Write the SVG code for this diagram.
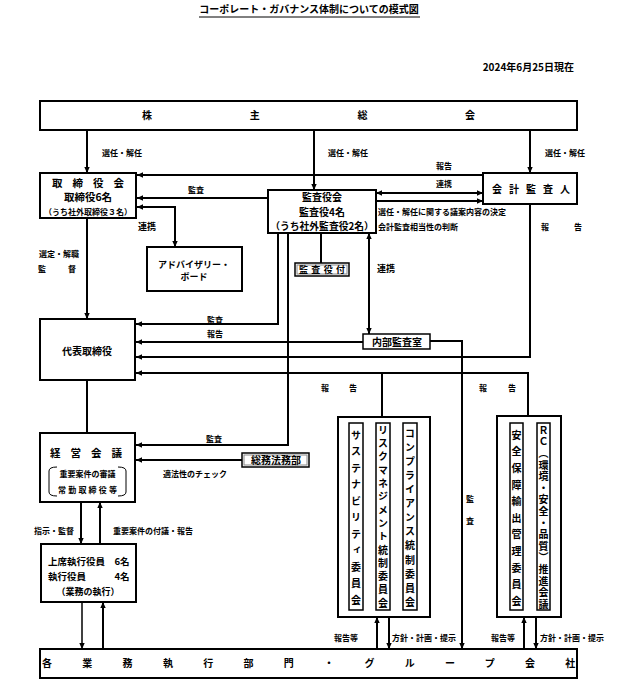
<svg xmlns="http://www.w3.org/2000/svg" width="618" height="693" viewBox="0 0 618 693">
<defs>
<style>
text{font-family:"Noto Sans CJK JP","Noto Sans CJK SC",sans-serif;font-weight:bold;fill:#000}
.box{fill:#fff;stroke:#000;stroke-width:2}
.sbox{fill:#fff;stroke:#000;stroke-width:1.5}
.inner{fill:none;stroke:#888;stroke-width:1}
.ln{fill:none;stroke:#000;stroke-width:2}
.thin{fill:none;stroke:#000;stroke-width:1.5}
.arr{marker-end:url(#ah)}
.dbl{marker-start:url(#ah);marker-end:url(#ah)}
.lbl{font-size:8px}
.t10{font-size:10px}
.mid{text-anchor:middle}
.vt{writing-mode:vertical-rl;font-size:10px}
</style>
<marker id="ah" viewBox="0 0 10 10" refX="10" refY="5" markerWidth="6" markerHeight="6" markerUnits="userSpaceOnUse" orient="auto-start-reverse">
<path d="M0,0.5 L10,5 L0,9.5 z" fill="#000"/>
</marker>
</defs>
<rect width="618" height="693" fill="#fff"/>

<g id="title">
<text x="309" y="13" class="t10 mid">コーポレート・ガバナンス体制についての模式図</text>
<line x1="199" y1="17" x2="420" y2="17" stroke="#000" stroke-width="1"/>
<text x="574" y="71" class="t10" text-anchor="end">2024年6月25日現在</text>
</g>

<g id="connectors">
<path class="ln arr" d="M87,130 V173"/>
<path class="ln arr" d="M314,130 V190"/>
<path class="ln arr" d="M530,130 V173"/>
<path class="ln arr" d="M483,175 H137"/>
<path class="ln arr" d="M268,198 H137"/>
<path class="ln dbl" d="M137,207 H175 V247"/>
<path class="ln dbl" d="M376,193 H483"/>
<path class="ln arr" d="M376,201 H483"/>
<path class="ln arr" d="M87,218 V319"/>
<path class="ln arr" d="M278,233 V324 H136"/>
<path class="ln arr" d="M288,233 V445 H136"/>
<path class="ln" d="M321,233 V263"/>
<path class="ln dbl" d="M369,233 V334"/>
<path class="ln arr" d="M363,342 H136"/>
<path class="ln arr" d="M430,341 H462 V649"/>
<path class="ln arr" d="M530,204 V357 H136"/>
<path class="ln arr" d="M528,416 V373 H136"/>
<path class="ln" d="M382,373 V417"/>
<path class="ln" d="M87,380 V433"/>
<path class="ln arr" d="M242,460 H136"/>
<path class="ln arr" d="M81,502 V544"/>
<path class="ln arr" d="M100,544 V502"/>
<path class="thin arr" d="M82,602 V649"/>
<path class="ln arr" d="M103,649 V602"/>
<path class="ln arr" d="M377,649 V617"/>
<path class="ln arr" d="M389,617 V649"/>
<path class="ln arr" d="M524,649 V617"/>
<path class="ln arr" d="M536,617 V649"/>
</g>

<g id="labels">
<text x="102" y="156" class="lbl">選任・解任</text>
<text x="328" y="156" class="lbl">選任・解任</text>
<text x="545" y="156" class="lbl">選任・解任</text>
<text x="436" y="169" class="lbl">報告</text>
<text x="188" y="193" class="lbl">監査</text>
<text x="436" y="187" class="lbl">連携</text>
<text x="378" y="215" class="lbl">選任・解任に関する議案内容の決定</text>
<text x="378" y="230" class="lbl">会計監査相当性の判断</text>
<text x="541" y="230" class="lbl" letter-spacing="25">報告</text>
<text x="138" y="230" style="font-size:9px">連携</text>
<text x="39" y="257" class="lbl">選定・解職</text>
<text x="38" y="272" class="lbl" letter-spacing="22">監督</text>
<text x="377" y="272" style="font-size:9px">連携</text>
<text x="207" y="323" class="lbl">監査</text>
<text x="207" y="337" class="lbl">報告</text>
<text x="321" y="391" class="lbl" letter-spacing="20">報告</text>
<text x="479" y="391" class="lbl" letter-spacing="21">報告</text>
<text x="206" y="442" class="lbl">監査</text>
<text x="163" y="477" class="lbl">適法性のチェック</text>
<text x="470" y="495" class="lbl" style="writing-mode:vertical-rl" letter-spacing="14">監査</text>
<text x="34" y="534" class="lbl">指示・監督</text>
<text x="113" y="534" class="lbl">重要案件の付議・報告</text>
<text x="334" y="641" class="lbl">報告等</text>
<text x="392" y="641" class="lbl">方針・計画・提示</text>
<text x="491" y="641" class="lbl">報告等</text>
<text x="540" y="641" class="lbl">方針・計画・提示</text>
</g>

<g id="shareholders">
<rect class="box" x="40" y="101" width="537" height="29"/>
<text x="142" y="119" class="t10" letter-spacing="97.7">株主総会</text>
</g>

<g id="board">
<rect class="box" x="40" y="173" width="96" height="45"/>
<text x="52" y="187" style="font-size:10.5px" letter-spacing="10">取締役会</text>
<text x="88" y="201" class="mid" style="font-size:10.5px">取締役6名</text>
<text x="88" y="215" class="mid" style="font-size:8px">（うち社外取締役３名）</text>
</g>

<g id="advisory">
<rect class="box" x="147" y="247" width="95" height="44"/>
<text x="194" y="268" class="mid" style="font-size:9px">アドバイザリー・</text>
<text x="194" y="280" class="mid" style="font-size:9px">ボード</text>
</g>

<g id="auditboard">
<rect class="box" x="268" y="190" width="108" height="43"/>
<text x="322" y="201" class="mid t10">監査役会</text>
<text x="322" y="216" class="mid t10">監査役4名</text>
<text x="322" y="230" class="mid" style="font-size:9.8px">（うち社外監査役2名）</text>
</g>

<g id="accountant">
<rect class="box" x="483" y="173" width="94" height="31"/>
<text x="492" y="193" class="t10" letter-spacing="7">会計監査人</text>
</g>

<g id="auditstaff">
<rect class="sbox" x="295" y="263" width="54" height="13"/>
<rect class="inner" x="297" y="265" width="50" height="9"/>
<text x="299" y="273" style="font-size:9px" textLength="46" lengthAdjust="spacing">監査役付</text>
</g>

<g id="president">
<rect class="box" x="40" y="319" width="95" height="61"/>
<text x="87" y="355" class="mid t10">代表取締役</text>
</g>

<g id="internalaudit">
<rect class="sbox" x="363" y="334" width="67" height="15"/>
<text x="397" y="345.5" class="mid t10">内部監査室</text>
</g>

<g id="management">
<rect class="box" x="40" y="433" width="95" height="69"/>
<text x="50" y="457" style="font-size:10.5px" letter-spacing="10">経営会議</text>
<path class="thin" style="stroke-width:1" d="M57,467 Q49,467 49,471 V492 Q49,496 57,496"/>
<path class="thin" style="stroke-width:1" d="M118,467 Q126,467 126,471 V492 Q126,496 118,496"/>
<text x="87.5" y="477" class="mid" style="font-size:8px">重要案件の審議</text>
<text x="58" y="493" style="font-size:8px" textLength="59" lengthAdjust="spacing">常勤取締役等</text>
</g>

<g id="legal">
<rect class="sbox" x="242" y="453" width="67" height="14"/>
<rect class="inner" x="244" y="455" width="63" height="10"/>
<text x="276" y="463.5" class="mid t10">総務法務部</text>
</g>

<g id="officers">
<rect class="box" x="41" y="544" width="95" height="58"/>
<text x="48" y="565" style="font-size:9.5px">上席執行役員　6名</text>
<text x="48" y="579.5" style="font-size:9.5px">執行役員　　　4名</text>
<text x="88" y="594.5" class="mid" style="font-size:9px">（業務の執行）</text>
</g>

<g id="committees">
<rect class="box" x="338" y="417" width="92" height="200"/>
<rect class="sbox" x="349" y="423" width="14" height="187"/>
<text x="356" y="430" class="vt" textLength="175" lengthAdjust="spacing">サステナビリティ委員会</text>
<rect class="sbox" x="376" y="423" width="14" height="187"/>
<text x="383" y="425" class="vt" textLength="183" lengthAdjust="spacing">リスクマネジメント統制委員会</text>
<rect class="sbox" x="403" y="423" width="14" height="187"/>
<text x="410" y="428" class="vt" textLength="179" lengthAdjust="spacing">コンプライアンス統制委員会</text>
</g>

<g id="rc">
<rect class="box" x="497" y="416" width="64" height="201"/>
<rect class="sbox" x="510" y="423" width="13" height="187"/>
<text x="516.5" y="430" class="vt" textLength="176" lengthAdjust="spacing">安全保障輸出管理委員会</text>
<rect class="sbox" x="537" y="423" width="13" height="187"/>
<text x="543.5" y="425" class="vt" textLength="184" lengthAdjust="spacing">ＲＣ（環境・安全・品質）推進会議</text>
</g>

<g id="operations">
<rect class="box" x="40" y="649" width="537" height="29"/>
<text x="42" y="667" class="t10" letter-spacing="30.3">各業務執行部門・グループ会社</text>
</g>
</svg>
